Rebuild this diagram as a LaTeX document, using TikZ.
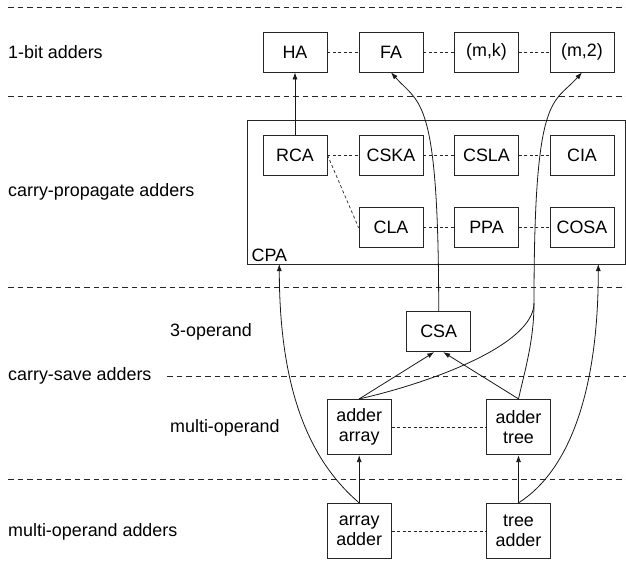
\documentclass[tikz,border=0pt]{standalone}
\usepackage{fontspec}
\setmainfont{Liberation Sans}
\usetikzlibrary{arrows.meta}
\newcommand{\fs}{\fontsize{17.9pt}{20.5pt}\selectfont}
\tikzset{
  box/.style={draw=black!85, line width=0.8pt, minimum width=64pt, minimum height=40pt, inner sep=0pt, font=\fs},
  tallbox/.style={box, minimum height=55.4pt, align=center},
  lbl/.style={anchor=west, inner sep=0pt, font=\fs},
  conn/.style={black!85, line width=0.7pt, dash pattern=on 3pt off 2.5pt},
  sepline/.style={black!85, line width=0.8pt, dash pattern=on 5.5pt off 4pt},
  arr/.style={black!90, line width=0.8pt, -{Latex[length=7pt,width=5pt]}},
  wire/.style={black!90, line width=0.8pt},
}
\begin{document}
\begin{tikzpicture}[x=1pt,y=-1pt]
\useasboundingbox (0,0) rectangle (626,578);

% separator lines
\coordinate (s1a) at (8,7.3);   \coordinate (s1b) at (626,7.3);
\coordinate (s2a) at (8,96);    \coordinate (s2b) at (626,96);
\coordinate (s3a) at (8,287.7); \coordinate (s3b) at (626,287.7);
\coordinate (s4a) at (167,376); \coordinate (s4b) at (626,376);
\coordinate (s5a) at (8,479);   \coordinate (s5b) at (626,479);
\draw[sepline] (s1a) -- (s1b);
\draw[sepline] (s2a) -- (s2b);
\draw[sepline] (s3a) -- (s3b);
\draw[sepline] (s4a) -- (s4b);
\draw[sepline] (s5a) -- (s5b);

% left labels
\node[lbl] (l1) at (8,52.5) {1-bit adders};
\node[lbl] (l2) at (8,192) {carry-propagate adders};
\node[lbl] (l3) at (170,331.7) {3-operand};
\node[lbl] (l4) at (8,376) {carry-save adders};
\node[lbl] (l5) at (170,428) {multi-operand};
\node[lbl] (l6) at (8,532) {multi-operand adders};

% CPA frame
\node[draw=black!85, line width=0.8pt, minimum width=377.7pt, minimum height=144pt, inner sep=0pt] (CPA) at (436.15,192) {};
\node[anchor=base west, inner sep=0pt, font=\fs] (CPAl) at (251.5,261) {CPA};

% 1-bit adders
\node[box] (HA) at (295,52) {HA};
\node[box] (FA) at (391,52) {FA};
\node[box] (MK) at (486.5,52) {(m,k)};
\node[box] (M2) at (582,52) {(m,2)};

% CPA contents
\node[box] (RCA)  at (295,155) {RCA};
\node[box] (CSKA) at (391,155) {CSKA};
\node[box] (CSLA) at (486.5,155) {CSLA};
\node[box] (CIA)  at (582,155) {CIA};
\node[box] (CLA)  at (391,227.7) {CLA};
\node[box] (PPA)  at (486.5,227.7) {PPA};
\node[box] (COSA) at (582,227.7) {COSA};

% carry-save
\node[box] (CSA) at (438.7,331.7) {CSA};
\node[tallbox] (AA) at (359.2,427) {adder\\array};
\node[tallbox] (AT) at (518.5,427) {adder\\tree};

% multi-operand
\node[tallbox] (ArA) at (359.2,531) {array\\adder};
\node[tallbox] (TrA) at (518.5,531) {tree\\adder};

% dotted relations
\draw[conn] (HA) -- (FA);
\draw[conn] (FA) -- (MK);
\draw[conn] (MK) -- (M2);
\draw[conn] (RCA) -- (CSKA);
\draw[conn] (CSKA) -- (CSLA);
\draw[conn] (CSLA) -- (CIA);
\draw[conn] (RCA.east) -- (CLA.west);
\draw[conn] (CLA) -- (PPA);
\draw[conn] (PPA) -- (COSA);
\draw[conn] (AA) -- (AT);
\draw[conn] (ArA) -- (TrA);

% arrows
\draw[arr] (RCA.north) -- (HA.south);
\draw[arr] (AA.north) -- ([xshift=-4.5pt]CSA.south);
\draw[arr] (AT.north) -- ([xshift=4.5pt]CSA.south);
\draw[arr] (ArA.north) -- (AA.south);
\draw[arr] (TrA.north) -- (AT.south);

\draw[arr] (CSA.north) .. controls (438.7,95) and (420,105) .. (FA.south);

\coordinate (M) at (534,303);
\draw[wire] (AT.north) .. controls (525,370) and (534,340) .. (M);
\draw[arr] (AA.north) .. controls (430,383) and (534,345) .. (M)
  .. controls (534,90) and (553,105) .. (M2.south);

\coordinate (cpaL) at (279.3,264);
\coordinate (cpaR) at (598.3,264);
\draw[arr] (ArA.north) .. controls (315,465) and (279.3,400) .. (cpaL);
\draw[arr] (TrA.north) .. controls (570,470) and (598.3,390) .. (cpaR);
\end{tikzpicture}
\end{document}
